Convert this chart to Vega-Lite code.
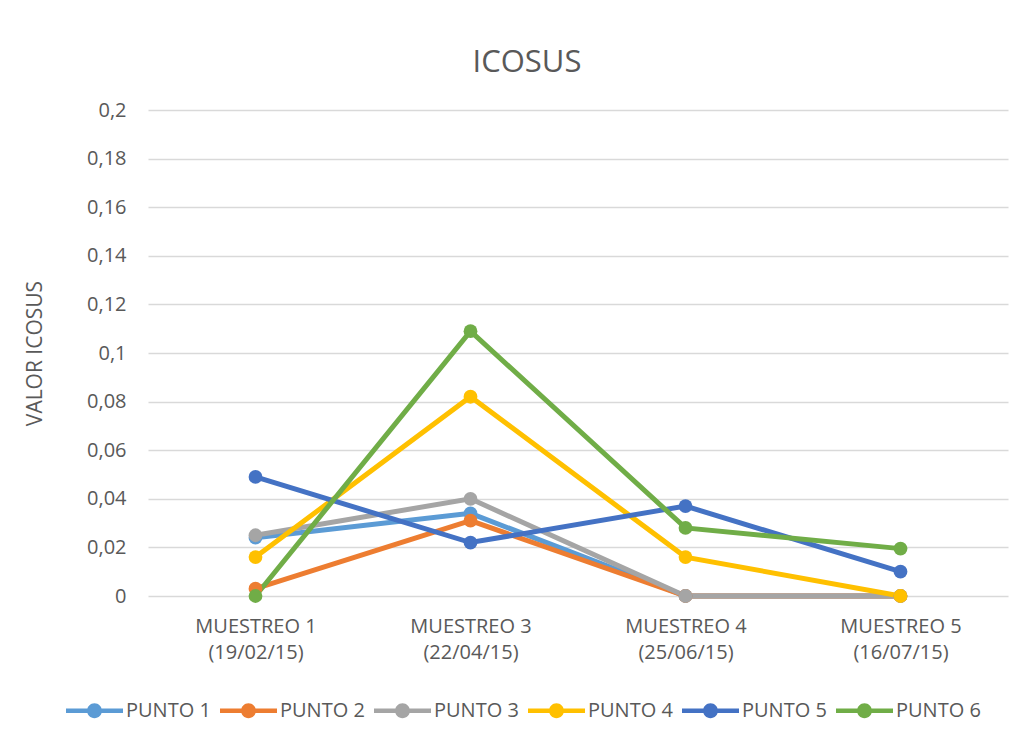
{
  "$schema": "https://vega.github.io/schema/vega-lite/v6.json",
  "width": 860,
  "height": 486,
  "autosize": {"type": "none"},
  "padding": {"left": 148, "top": 110, "right": 16, "bottom": 144},
  "background": "white",
  "title": {
    "text": "ICOSUS",
    "fontSize": 31,
    "fontWeight": "normal",
    "color": "#595959",
    "font": "Open Sans",
    "anchor": "middle",
    "frame": "group",
    "dx": -51,
    "dy": 40,
    "baseline": "alphabetic",
    "offset": 37
  },
  "data": {
    "values": [
      {"muestreo": "MUESTREO 1|(19/02/15)", "punto": "PUNTO 1", "valor": 0.024},
      {"muestreo": "MUESTREO 3|(22/04/15)", "punto": "PUNTO 1", "valor": 0.034},
      {"muestreo": "MUESTREO 4|(25/06/15)", "punto": "PUNTO 1", "valor": 0},
      {"muestreo": "MUESTREO 5|(16/07/15)", "punto": "PUNTO 1", "valor": 0},
      {"muestreo": "MUESTREO 1|(19/02/15)", "punto": "PUNTO 2", "valor": 0.003},
      {"muestreo": "MUESTREO 3|(22/04/15)", "punto": "PUNTO 2", "valor": 0.031},
      {"muestreo": "MUESTREO 4|(25/06/15)", "punto": "PUNTO 2", "valor": 0},
      {"muestreo": "MUESTREO 5|(16/07/15)", "punto": "PUNTO 2", "valor": 0},
      {"muestreo": "MUESTREO 1|(19/02/15)", "punto": "PUNTO 3", "valor": 0.025},
      {"muestreo": "MUESTREO 3|(22/04/15)", "punto": "PUNTO 3", "valor": 0.040},
      {"muestreo": "MUESTREO 4|(25/06/15)", "punto": "PUNTO 3", "valor": 0},
      {"muestreo": "MUESTREO 5|(16/07/15)", "punto": "PUNTO 3", "valor": 0},
      {"muestreo": "MUESTREO 1|(19/02/15)", "punto": "PUNTO 4", "valor": 0.016},
      {"muestreo": "MUESTREO 3|(22/04/15)", "punto": "PUNTO 4", "valor": 0.082},
      {"muestreo": "MUESTREO 4|(25/06/15)", "punto": "PUNTO 4", "valor": 0.016},
      {"muestreo": "MUESTREO 5|(16/07/15)", "punto": "PUNTO 4", "valor": 0},
      {"muestreo": "MUESTREO 1|(19/02/15)", "punto": "PUNTO 5", "valor": 0.049},
      {"muestreo": "MUESTREO 3|(22/04/15)", "punto": "PUNTO 5", "valor": 0.022},
      {"muestreo": "MUESTREO 4|(25/06/15)", "punto": "PUNTO 5", "valor": 0.037},
      {"muestreo": "MUESTREO 5|(16/07/15)", "punto": "PUNTO 5", "valor": 0.010},
      {"muestreo": "MUESTREO 1|(19/02/15)", "punto": "PUNTO 6", "valor": 0},
      {"muestreo": "MUESTREO 3|(22/04/15)", "punto": "PUNTO 6", "valor": 0.109},
      {"muestreo": "MUESTREO 4|(25/06/15)", "punto": "PUNTO 6", "valor": 0.028},
      {"muestreo": "MUESTREO 5|(16/07/15)", "punto": "PUNTO 6", "valor": 0.0195}
    ]
  },
  "mark": {
    "type": "line",
    "strokeWidth": 5,
    "point": {"filled": true, "size": 190, "opacity": 1}
  },
  "encoding": {
    "x": {
      "field": "muestreo",
      "type": "ordinal",
      "sort": null,
      "scale": {"type": "point", "padding": 0.5},
      "axis": {
        "title": null,
        "labelAngle": 0,
        "labelExpr": "split(datum.label, '|')",
        "labelFont": "Open Sans",
        "labelFontSize": 20,
        "labelColor": "#595959",
        "labelLineHeight": 26,
        "labelPadding": 20,
        "ticks": false,
        "domain": false,
        "grid": false
      }
    },
    "y": {
      "field": "valor",
      "type": "quantitative",
      "scale": {"domain": [0, 0.2], "nice": false, "zero": true},
      "axis": {
        "title": "VALOR ICOSUS",
        "titleFont": "Open Sans",
        "titleFontSize": 21,
        "titleFontWeight": "normal",
        "titleColor": "#595959",
        "titleX": -113,
        "titleY": 243,
        "titleAngle": -90,
        "titleAlign": "center",
        "titleBaseline": "middle",
        "values": [0, 0.02, 0.04, 0.06, 0.08, 0.1, 0.12, 0.14, 0.16, 0.18, 0.2],
        "labelExpr": "replace(format(datum.value, '.2~f'), '.', ',')",
        "labelFont": "Open Sans",
        "labelFontSize": 20,
        "labelColor": "#595959",
        "labelPadding": 22,
        "ticks": false,
        "domain": false,
        "grid": true,
        "gridColor": "#D9D9D9",
        "gridWidth": 1.3
      }
    },
    "color": {
      "field": "punto",
      "type": "nominal",
      "scale": {
        "domain": ["PUNTO 1", "PUNTO 2", "PUNTO 3", "PUNTO 4", "PUNTO 5", "PUNTO 6"],
        "range": ["#5B9BD5", "#ED7D31", "#A5A5A5", "#FFC000", "#4472C4", "#70AD47"]
      },
      "legend": {
        "title": null,
        "orient": "none",
        "direction": "horizontal",
        "legendX": -82,
        "legendY": 572,
        "columns": 6,
        "columnPadding": 9,
        "labelFont": "Open Sans",
        "labelFontSize": 20,
        "labelColor": "#595959",
        "labelOffset": 3,
        "symbolType": "M-1,-0.08L1,-0.08L1,0.08L-1,0.08Z M0.26,0A0.26,0.26,0,1,1,-0.26,0A0.26,0.26,0,1,1,0.26,0Z",
        "symbolSize": 3249,
        "symbolStrokeWidth": 0,
        "encode": {
          "symbols": {
            "update": {
              "fill": {"scale": "color", "field": "value"},
              "stroke": {"value": "transparent"},
              "strokeWidth": {"value": 0},
              "opacity": {"value": 1}
            }
          }
        }
      }
    }
  },
  "config": {
    "view": {"stroke": null},
    "font": "Open Sans"
  }
}
